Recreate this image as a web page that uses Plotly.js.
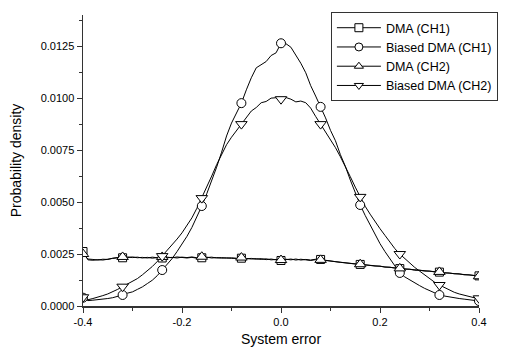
<!DOCTYPE html>
<html>
<head>
<meta charset="utf-8">
<script src="https://cdn.plot.ly/plotly-3.0.1.min.js"></script>
<style>html,body{margin:0;padding:0;background:#fff;}#chart{width:514px;height:347px;}</style>
</head>
<body>
<div id="chart"></div>
<script>
// x grid of the measured curves
const xs = [-0.40,-0.39,-0.38,-0.37,-0.36,-0.35,-0.34,-0.33,-0.32,-0.31,-0.30,-0.29,-0.28,-0.27,-0.26,-0.25,-0.24,-0.23,-0.22,-0.21,-0.20,-0.19,-0.18,-0.17,-0.16,-0.15,-0.14,-0.13,-0.12,-0.11,-0.10,-0.09,-0.08,-0.07,-0.06,-0.05,-0.04,-0.03,-0.02,-0.01,0.00,0.01,0.02,0.03,0.04,0.05,0.06,0.07,0.08,0.09,0.10,0.11,0.12,0.13,0.14,0.15,0.16,0.17,0.18,0.19,0.20,0.21,0.22,0.23,0.24,0.25,0.26,0.27,0.28,0.29,0.30,0.31,0.32,0.33,0.34,0.35,0.36,0.37,0.38,0.39,0.40];

const dmaCH1 = [0.00262,0.00222,0.00220,0.00223,0.00221,0.00226,0.00229,0.00232,0.00232,0.00236,0.00233,0.00235,0.00231,0.00234,0.00230,0.00233,0.00231,0.00235,0.00232,0.00236,0.00233,0.00231,0.00234,0.00230,0.00232,0.00235,0.00231,0.00233,0.00230,0.00232,0.00229,0.00231,0.00230,0.00227,0.00229,0.00225,0.00228,0.00223,0.00226,0.00222,0.00219,0.00223,0.00226,0.00221,0.00225,0.00222,0.00219,0.00223,0.00224,0.00220,0.00215,0.00213,0.00210,0.00208,0.00205,0.00203,0.00200,0.00198,0.00195,0.00193,0.00191,0.00188,0.00186,0.00183,0.00180,0.00178,0.00176,0.00173,0.00171,0.00169,0.00167,0.00165,0.00163,0.00160,0.00158,0.00156,0.00154,0.00151,0.00149,0.00147,0.00145];

const biasedCH1 = [0.00040,0.00026,0.00028,0.00030,0.00033,0.00036,0.00040,0.00046,0.00053,0.00062,0.00068,0.00080,0.00092,0.00108,0.00124,0.00146,0.00173,0.00200,0.00228,0.00262,0.00298,0.00335,0.00378,0.00428,0.00481,0.00540,0.00602,0.00668,0.00740,0.00818,0.00880,0.00930,0.00976,0.01040,0.01098,0.01146,0.01160,0.01176,0.01205,0.01218,0.01264,0.01262,0.01245,0.01208,0.01168,0.01122,0.01060,0.01010,0.00958,0.00905,0.00845,0.00795,0.00728,0.00672,0.00606,0.00545,0.00486,0.00436,0.00390,0.00345,0.00300,0.00262,0.00228,0.00192,0.00159,0.00140,0.00125,0.00112,0.00098,0.00085,0.00075,0.00063,0.00053,0.00048,0.00043,0.00040,0.00036,0.00033,0.00029,0.00026,0.00024];

const dmaCH2 = [0.00250,0.00226,0.00224,0.00221,0.00225,0.00224,0.00230,0.00233,0.00236,0.00233,0.00236,0.00232,0.00234,0.00231,0.00235,0.00232,0.00236,0.00232,0.00234,0.00231,0.00235,0.00233,0.00236,0.00232,0.00237,0.00233,0.00235,0.00231,0.00233,0.00230,0.00232,0.00229,0.00233,0.00229,0.00226,0.00228,0.00224,0.00227,0.00222,0.00224,0.00221,0.00225,0.00222,0.00226,0.00221,0.00224,0.00221,0.00225,0.00222,0.00218,0.00216,0.00212,0.00211,0.00207,0.00206,0.00202,0.00201,0.00197,0.00196,0.00192,0.00192,0.00187,0.00187,0.00182,0.00181,0.00177,0.00177,0.00172,0.00172,0.00168,0.00168,0.00164,0.00164,0.00159,0.00159,0.00155,0.00155,0.00150,0.00150,0.00146,0.00143];

const biasedCH2 = [0.00042,0.00030,0.00036,0.00042,0.00050,0.00058,0.00068,0.00080,0.00093,0.00106,0.00118,0.00132,0.00150,0.00168,0.00190,0.00214,0.00240,0.00266,0.00293,0.00322,0.00352,0.00385,0.00424,0.00470,0.00519,0.00570,0.00625,0.00680,0.00732,0.00776,0.00812,0.00845,0.00875,0.00905,0.00938,0.00955,0.00978,0.00984,0.01000,0.01002,0.00995,0.01003,0.00995,0.00982,0.00986,0.00978,0.00952,0.00912,0.00875,0.00838,0.00800,0.00762,0.00718,0.00672,0.00622,0.00572,0.00525,0.00480,0.00442,0.00405,0.00372,0.00340,0.00306,0.00276,0.00250,0.00228,0.00206,0.00186,0.00168,0.00150,0.00132,0.00115,0.00101,0.00088,0.00076,0.00066,0.00058,0.00051,0.00045,0.00040,0.00037];

// x positions where symbols are drawn
const markerX = [-0.40,-0.32,-0.24,-0.16,-0.08,0.00,0.08,0.16,0.24,0.32,0.40];

const seriesNames = ['DMA (CH1)','Biased DMA (CH1)','DMA (CH2)','Biased DMA (CH2)'];
const seriesData = [dmaCH1, biasedCH1, dmaCH2, biasedCH2];
const seriesSymbols = ['square','circle','triangle-up','triangle-down'];

const xTickVals = [-0.4,-0.2,0.0,0.2,0.4];
const xTickText = ['-0.4','-0.2','0.0','0.2','0.4'];
const yTickVals = [0,0.0025,0.005,0.0075,0.01,0.0125];
const yTickText = ['0.0000','0.0025','0.0050','0.0075','0.0100','0.0125'];

function pick(vals, x){
  let best = 0, bd = 1e9;
  for (let i = 0; i < xs.length; i++){ const d = Math.abs(xs[i]-x); if (d < bd){bd = d; best = i;} }
  return vals[best];
}

const symbolSizes = [8, 9, 10, 10];
const traces = [];
seriesData.forEach((vals, i) => {
  traces.push({x: xs, y: vals, type:'scatter', mode:'lines', showlegend:false, hoverinfo:'skip',
    line:{color:'#000', width:1}});
});
seriesData.forEach((vals, i) => {
  traces.push({x: markerX, y: markerX.map(x => pick(vals, x)), type:'scatter', mode:'markers', showlegend:false,
    cliponaxis:true,
    marker:{symbol: seriesSymbols[i], size: symbolSizes[i], color:'#fff', line:{color:'#000', width:1}}});
});
seriesData.forEach((vals, i) => {
  traces.push({x:[null], y:[null], type:'scatter', mode:'lines+markers', name: seriesNames[i], legendrank: i+1,
    line:{color:'#000', width:1},
    marker:{symbol: seriesSymbols[i], size: 8, color:'#fff', line:{color:'#000', width:1}}});
});

const font = 'Arial, "Liberation Sans", sans-serif';
const layout = {
  width:514, height:347,
  margin:{l:83, r:35, t:15, b:41},
  paper_bgcolor:'#fff', plot_bgcolor:'#fff',
  font:{family:font, color:'#000', size:11},
  showlegend:true,
  legend:{x:0.626, y:1.01, xanchor:'left', yanchor:'top', bgcolor:'#fff', bordercolor:'#333', borderwidth:1,
    font:{family:font, size:12.5, color:'#000'}, tracegroupgap:0, itemwidth:44},
  xaxis:{range:[-0.4,0.4], showgrid:false, zeroline:false, showline:true, linecolor:'#333', linewidth:1.5,
    tickmode:'array', tickvals:xTickVals, ticktext:xTickText, ticks:'outside', ticklen:5, tickwidth:1, tickcolor:'#333',
    minor:{dtick:0.1, tick0:-0.4, ticks:'outside', ticklen:3, tickcolor:'#333', showgrid:false},
    tickfont:{size:11}, automargin:false,
    title:{text:'System error', font:{size:14}, standoff:8}},
  yaxis:{range:[0,0.014], showgrid:false, zeroline:false, showline:true, linecolor:'#333', linewidth:1.5,
    tickmode:'array', tickvals:yTickVals, ticktext:yTickText, ticks:'outside', ticklen:5, tickwidth:1, tickcolor:'#333',
    minor:{dtick:0.00125, tick0:0, ticks:'outside', ticklen:3, tickcolor:'#333', showgrid:false},
    tickfont:{size:11}, automargin:false,
    title:{text:'Probability density', font:{size:14}, standoff:15}}
};

Plotly.newPlot('chart', traces, layout, {staticPlot:true, displayModeBar:false});
</script>
</body>
</html>
